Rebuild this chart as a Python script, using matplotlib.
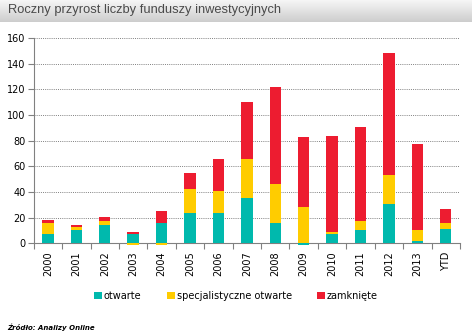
import matplotlib
matplotlib.use("Agg")
import matplotlib.pyplot as plt
import numpy as np

years = ["2000", "2001", "2002", "2003", "2004", "2005", "2006", "2007",
         "2008", "2009", "2010", "2011", "2012", "2013", "YTD"]
otwarte = [7, 10, 14.5, 7, 16, 24, 24, 35, 16, -1, 7, 10, 31, 2, 11]
specjalistyczne = [9, 3, 3, -1, -1, 18, 17, 31, 30, 28, 2, 7, 22, 8, 5]
zamkniete = [2, 1, 3, 2, 9.5, 13, 25, 44, 76, 55, 75, 74, 95, 67, 11]

series = [("otwarte", otwarte, "#00B9AD"),
          ("specjalistyczne otwarte", specjalistyczne, "#FFCC00"),
          ("zamknięte", zamkniete, "#ED1C30")]


def main():
    plt.rcParams["font.family"] = ["DejaVu Sans"]
    fig = plt.figure(figsize=(4.72, 3.35), dpi=100)

    # title bar with a grey gradient
    bar_ax = fig.add_axes([0, 1 - 22 / 335, 1, 22 / 335])
    grad = np.linspace(0, 1, 50).reshape(-1, 1)
    cmap = plt.matplotlib.colors.LinearSegmentedColormap.from_list("g", ["#f6f6f6", "#cdcdcd"])
    bar_ax.imshow(grad, aspect="auto", cmap=cmap, extent=[0, 1, 0, 1])
    bar_ax.set_axis_off()
    fig.text(8 / 472, 1 - 10.5 / 335, "Roczny przyrost liczby funduszy inwestycyjnych",
             fontsize=9.3, color="#4a4a4a", va="center", ha="left",
             family="Liberation Sans")

    ax = fig.add_axes([33.7 / 472, 1 - 243.3 / 335, (460 - 33.7) / 472, (243.3 - 38) / 335])
    x = np.arange(len(years))
    pos_bottom = np.zeros(len(years))
    neg_bottom = np.zeros(len(years))
    for label, vals, color in series:
        v = np.array(vals, dtype=float)
        bottom = np.where(v >= 0, pos_bottom, neg_bottom)
        ax.bar(x, v, 0.4, bottom=bottom, color=color, label=label, clip_on=False, zorder=3)
        pos_bottom += np.where(v >= 0, v, 0)
        neg_bottom += np.where(v < 0, v, 0)

    ax.set_ylim(0, 160)
    ax.set_xlim(-0.5, len(years) - 0.5)
    ax.set_yticks(np.arange(0, 161, 20))
    ax.tick_params(axis="y", labelsize=7, length=4, color="#808080", pad=2)
    for yv in range(20, 161, 20):
        ax.axhline(yv, color="#808080", linestyle=(0, (1, 1.2)), linewidth=0.7, zorder=1)

    ax.set_xticks(np.arange(-0.5, len(years), 1))
    ax.set_xticklabels([])
    ax.tick_params(axis="x", which="major", length=4, color="#808080")
    ax.set_xticks(x, minor=True)
    ax.set_xticklabels(years, minor=True, rotation=90, fontsize=7)
    ax.tick_params(axis="x", which="minor", length=0, pad=6)

    for side in ["top", "right"]:
        ax.spines[side].set_visible(False)
    for side in ["left", "bottom"]:
        ax.spines[side].set_color("#808080")

    handles, labels = ax.get_legend_handles_labels()
    fig.legend(handles, labels, loc="center", bbox_to_anchor=(0.5, 1 - 296 / 335),
               ncol=3, frameon=False, fontsize=7, handlelength=0.8, handleheight=0.8,
               handletextpad=0.2, columnspacing=2.6)

    fig.text(7 / 472, 1 - 327 / 335, "Źródło: Analizy Online", fontsize=5,
             style="italic", weight="bold", va="center", ha="left")

    fig.savefig("out.png", dpi=100)


if __name__ == "__main__":
    main()
